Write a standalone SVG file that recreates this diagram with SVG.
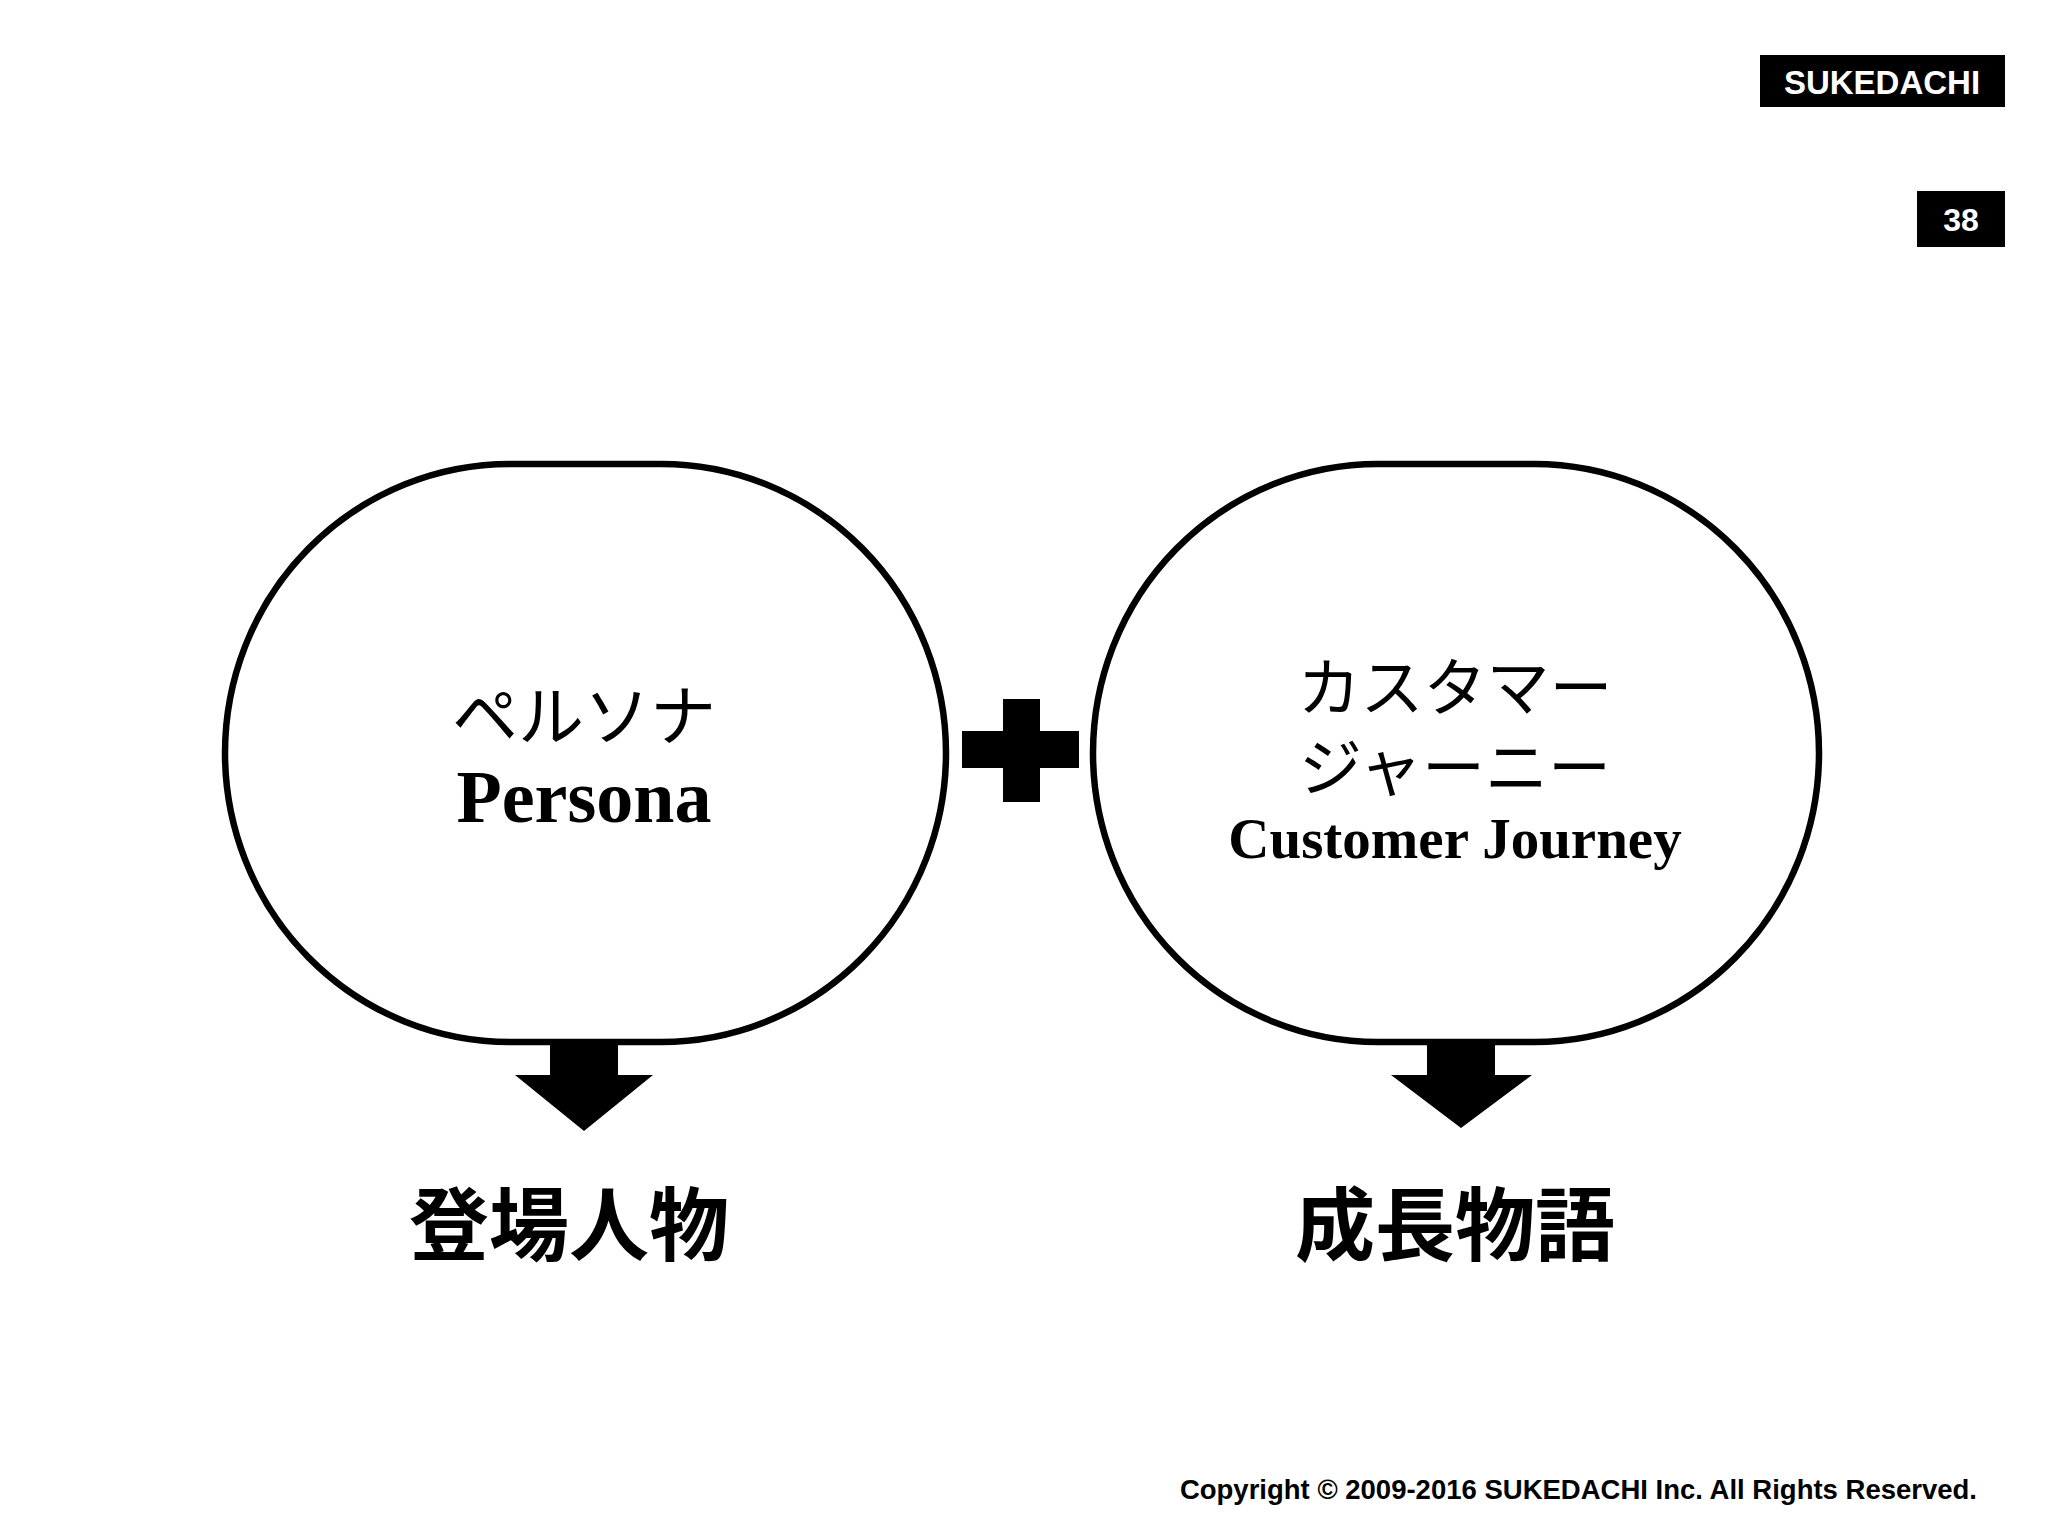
<svg xmlns="http://www.w3.org/2000/svg" width="2048" height="1536" viewBox="0 0 2048 1536">
<style>
.s{fill:#fff;stroke:#000;stroke-width:6.5}
.jp{font-family:"Noto Sans CJK JP",sans-serif;text-anchor:middle;fill:#000}
.en{font-family:"Liberation Serif",serif;text-anchor:middle;fill:#000;font-weight:bold}
.b{font-family:"Liberation Sans",Arial,sans-serif;font-weight:bold}
</style>
<rect width="2048" height="1536" fill="#fff"/>
<g id="header">
<rect x="1760" y="55" width="245" height="52" fill="#000"/>
<text x="1882" y="94" class="b" font-size="33" fill="#fff" text-anchor="middle">SUKEDACHI</text>
<rect x="1917" y="191" width="88" height="56" fill="#000"/>
<text x="1961" y="231" class="b" font-size="32" fill="#fff" text-anchor="middle">38</text>
</g>
<g id="connectors">
<path d="M550 1016H618V1075H653L584 1131L515 1075H550Z" fill="#000"/>
<path d="M1427 1016H1495V1075H1532L1461 1128L1391 1075H1427Z" fill="#000"/>
</g>
<g id="persona">
<rect class="s" x="225" y="464" width="721" height="578" rx="285" ry="289"/>
<text x="584" y="740" class="jp" font-size="66">ペルソナ</text>
<text x="584" y="822" class="en" font-size="74">Persona</text>
</g>
<g id="plus">
<rect x="962" y="731" width="117" height="37" fill="#000"/>
<rect x="1003" y="699" width="37" height="103" fill="#000"/>
</g>
<g id="journey">
<rect class="s" x="1093" y="464" width="726" height="578" rx="285" ry="289"/>
<text x="1455" y="710" class="jp" font-size="63">カスタマー</text>
<text x="1455" y="790" class="jp" font-size="63">ジャーニー</text>
<text x="1455" y="858" class="en" font-size="57">Customer Journey</text>
</g>
<g id="result1"><text x="569" y="1254" class="jp" font-size="80" font-weight="bold">登場人物</text></g>
<g id="result2"><text x="1455" y="1254" class="jp" font-size="80" font-weight="bold">成長物語</text></g>
<text x="1977" y="1499" class="b" font-size="27.5" text-anchor="end">Copyright © 2009-2016 SUKEDACHI Inc. All Rights Reserved.</text>
</svg>
